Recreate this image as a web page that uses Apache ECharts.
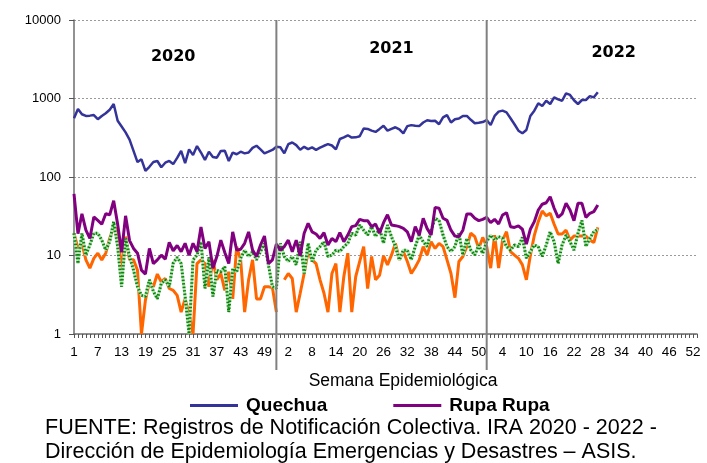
<!DOCTYPE html>
<html>
<head>
<meta charset="utf-8">
<script src="https://cdn.jsdelivr.net/npm/echarts@6/dist/echarts.min.js"></script>
<style>
html,body{margin:0;padding:0;background:#fff;}
#c{width:707px;height:463px;}
</style>
</head>
<body>
<div id="c"></div>
<script>
// Weeks per year (2020 has 53 epidemiological weeks)
const weeks2020 = 53, weeks2021 = 52, weeks2022 = 53;
const yearLabels = ['2020', '2021', '2022'];
const yTickLabels = ['1', '10', '100', '1000', '10000'];

// Quechua
const quechua2020 = [560,735,630,600,605,615,545,600,650,720,850,520,440,370,300,215,155,168,120,135,155,160,133,152,160,146,175,215,150,225,190,248,205,165,210,180,176,215,216,160,205,195,210,200,205,235,250,225,200,210,221,243,239];
const quechua2021 = [200,262,275,255,222,242,226,238,222,236,250,262,252,225,305,320,340,318,320,330,415,410,390,375,410,450,390,410,430,405,360,445,458,450,445,495,528,518,520,470,575,615,495,545,555,600,600,535,485,490,501,532];
const quechua2022 = [460,600,680,700,665,560,470,389,360,397,598,700,869,802,937,851,1035,975,937,1165,1109,950,851,957,957,1073,1035,1200];

// Rupa Rupa
const rupa2020 = [61,19,34,21,16.5,31,28,25,34,33,50,25,11,32,15.5,12.3,10.7,6.5,5.8,12.3,7.9,8.8,10.1,9,14.7,11.5,13.4,11.2,14.3,10.1,14.3,11.2,23,12.3,15,6.9,9.7,15.7,10.9,7.9,20,11.7,12,14.3,20,11.7,9.7,13.6,17.7,7.9,8.8,14,11.7];
const rupa2021 = [13,15.7,11.2,15.7,9.9,19.2,25.7,20,18.8,16.5,19.5,13.6,16.5,15,19.5,15,18.2,23.3,24,28.9,27.8,27.8,23.3,25.2,19.2,26.2,33,24.5,24,23.3,22.2,20,15,23.3,18.2,29.8,22,18.2,41,40,29.8,28,21,17.7,17.4,21,33.8,33.8,29.8,27.8,28.9,30.6];
const rupa2022 = [26.2,28.9,25.2,32.8,35.1,23.3,22.8,23.8,21.6,14,21.6,27,38,45,47,56,40,30.6,33.8,46.2,38,27.8,46.2,46.2,30.6,34.5,36.2,44];

// Orange series (legend entry not visible in the reference)
const orange2020 = [19.2,12.3,14.3,8.8,6.9,9.2,10.7,8.8,10.7,16.5,23.3,21,6.5,17.4,8.8,8.8,6.5,1,2.7,4.6,4,5.8,4.6,5.1,3.8,3.6,3.1,1.9,2.8,1.8,1,7.9,8.8,7.9,4,8.8,4.9,5.9,3.6,6.2,2.8,13,8.8,1.9,4.9,8.8,2.8,2.8,4,4,3.9,1.9,null];
const orange2021 = [4.9,5.9,5.1,1.9,3.3,5.9,11.2,8.8,7.9,4.9,3.3,1.9,5.9,7.9,1.9,5.4,10.7,1.9,5.4,8.4,13,3.8,9.7,4.9,5.6,9.9,7.6,10.1,14.3,8.8,11.2,8.4,5.9,7.1,8.8,13,10.1,15,12.3,14.3,13,8.8,5.9,2.9,8.4,9.7,13,19.2,17.4,12.3,17,13];
const orange2022 = [6.9,18.2,6.9,15.7,20.1,11.2,10.1,9.2,7.6,4.9,10,18,27,37,32,34.5,25,18.8,18.8,21,15.7,17.7,17.7,17.7,17.7,15.7,14.6,22.9];

// Green dotted series (legend entry not visible in the reference)
const green2020 = [19.2,7.9,19.2,10.1,13.6,19.2,19.2,15.7,11.7,15,27,13,4,16.5,9.7,6.5,4,3.1,3,4.9,3.5,2.8,4.4,4.9,4,8,9.5,7.9,3,1,8.8,10.1,15,3.8,9.5,3,6.5,6.2,7.2,1.9,6.8,6.2,9.2,11.7,9.7,11.2,8.8,11.2,14.3,7.6,4,3.8,14.3];
const green2021 = [9.7,8.4,9.7,7.6,15,5.9,14.3,8.4,11.7,13,15,9.7,10.1,11.7,11.2,13,14.3,19.2,18.2,24.5,21,18.2,23.3,17.4,22.2,14.3,24.5,17.4,13,8.8,11.7,11.7,8.8,13,18.2,15,13,21,29.8,28,18.2,13,11.2,13,19.2,10.1,16.5,11.7,10.1,13.6,10.6,15];
const green2022 = [18.2,15.7,17.4,16.5,13,11.7,13.6,13,17,9.2,11.2,13.6,13,9.7,13.6,20.1,15,7.9,13.6,18.2,15,11.7,19.2,28,13,16.5,20.1,21.5];

const footnote1 = 'FUENTE: Registros de Notificación Colectiva. IRA 2020 - 2022 -';
const footnote2 = 'Dirección de Epidemiología Emergencias y Desastres – ASIS.';
const xAxisTitle = 'Semana Epidemiológica';

// Build categories
const categories = [];
[weeks2020, weeks2021, weeks2022].forEach(n => { for (let w = 1; w <= n; w++) categories.push(String(w)); });
const pad = (arr, n) => arr.concat(new Array(Math.max(0, n - arr.length)).fill(null));
const quechua = pad(quechua2020, weeks2020).concat(pad(quechua2021, weeks2021), quechua2022);
const rupa = pad(rupa2020, weeks2020).concat(pad(rupa2021, weeks2021), rupa2022);
const orange = pad(orange2020, weeks2020).concat(pad(orange2021, weeks2021), orange2022);
const green = pad(green2020, weeks2020).concat(pad(green2021, weeks2021), green2022);

const FONT = '"Liberation Sans", Arial, sans-serif';
const chart = echarts.init(document.getElementById('c'), null, {renderer: 'canvas'});
chart.setOption({
  animation: false,
  backgroundColor: '#fff',
  grid: {left: 74, right: 10, top: 20, bottom: 129, containLabel: false},
  xAxis: {
    type: 'category', data: categories, boundaryGap: false,
    axisLine: {show: true, lineStyle: {color: '#6e6e6e', width: 1.5}},
    axisTick: {show: true, interval: 0, length: 4, lineStyle: {color: '#555'}},
    axisLabel: {interval: 5, color: '#000', fontSize: 13.5, fontFamily: FONT, margin: 11},
    splitLine: {show: false}
  },
  yAxis: {
    type: 'log', logBase: 10, min: 1, max: 10000,
    axisLine: {show: true, lineStyle: {color: '#6e6e6e', width: 1.5}},
    axisTick: {show: true, length: 5, lineStyle: {color: '#555'}},
    axisLabel: {color: '#000', fontSize: 13, fontFamily: FONT, margin: 13,
      formatter: v => yTickLabels[Math.round(Math.log10(v))] || ''},
    splitLine: {show: true, lineStyle: {color: '#9a9a9a', type: [2, 2], width: 1}}
  },
  legend: {
    data: ['Quechua', 'Rupa Rupa'], left: 185, top: 391,
    icon: 'rect', itemWidth: 48, itemHeight: 3, itemGap: 66,
    textStyle: {fontFamily: FONT, fontWeight: 'bold', fontSize: 19, color: '#000', padding: [0, 0, 0, 3]}
  },
  series: [
    {name: 'Serie naranja', type: 'line', data: orange, showSymbol: false, connectNulls: false,
      lineStyle: {color: '#FF6600', width: 3}, itemStyle: {color: '#FF6600'}, z: 2},
    {name: 'Serie verde base', type: 'line', data: green, showSymbol: false,
      lineStyle: {color: '#b8e4b8', width: 3}, itemStyle: {color: '#b8e4b8'}, z: 3},
    {name: 'Serie verde', type: 'line', data: green, showSymbol: false,
      lineStyle: {color: '#0a840a', width: 3, type: [1.5, 2]}, itemStyle: {color: '#0a840a'}, z: 3},
    {name: 'Rupa Rupa', type: 'line', data: rupa, showSymbol: false,
      lineStyle: {color: '#800080', width: 3}, itemStyle: {color: '#800080'}, z: 4},
    {name: 'Quechua', type: 'line', data: quechua, showSymbol: false,
      lineStyle: {color: '#333399', width: 2.5}, itemStyle: {color: '#333399'}, z: 5}
  ]
});

// Year separators and labels positioned through the axis scale
const sepIdx = [weeks2020 - 2, weeks2020 + weeks2021 - 1];
const yearIdx = [25, 80, 136];
const graphics = [];
sepIdx.forEach(i => {
  const x = chart.convertToPixel({xAxisIndex: 0}, i);
  graphics.push({type: 'line', shape: {x1: x, y1: 20, x2: x, y2: 370}, style: {stroke: '#808080', lineWidth: 2}, z: 10});
});
const yearY = [57, 49, 53];
yearLabels.forEach((t, k) => {
  const x = chart.convertToPixel({xAxisIndex: 0}, yearIdx[k]);
  graphics.push({type: 'text', x: x, y: yearY[k], style: {text: t, fill: '#000', font: 'bold 16px "DejaVu Sans", Verdana, sans-serif', textAlign: 'center', textVerticalAlign: 'middle'}, z: 10});
});
graphics.push({type: 'text', x: 403, y: 381, style: {text: xAxisTitle, fill: '#000', font: '17.5px ' + FONT, textAlign: 'center', textVerticalAlign: 'middle'}});
graphics.push({type: 'text', x: 45, y: 428, style: {text: footnote1, fill: '#000', font: '21.5px ' + FONT, textAlign: 'left', textVerticalAlign: 'middle'}});
graphics.push({type: 'text', x: 45, y: 452, style: {text: footnote2, fill: '#000', font: '21.5px ' + FONT, textAlign: 'left', textVerticalAlign: 'middle'}});
chart.setOption({graphic: graphics});
</script>
</body>
</html>
